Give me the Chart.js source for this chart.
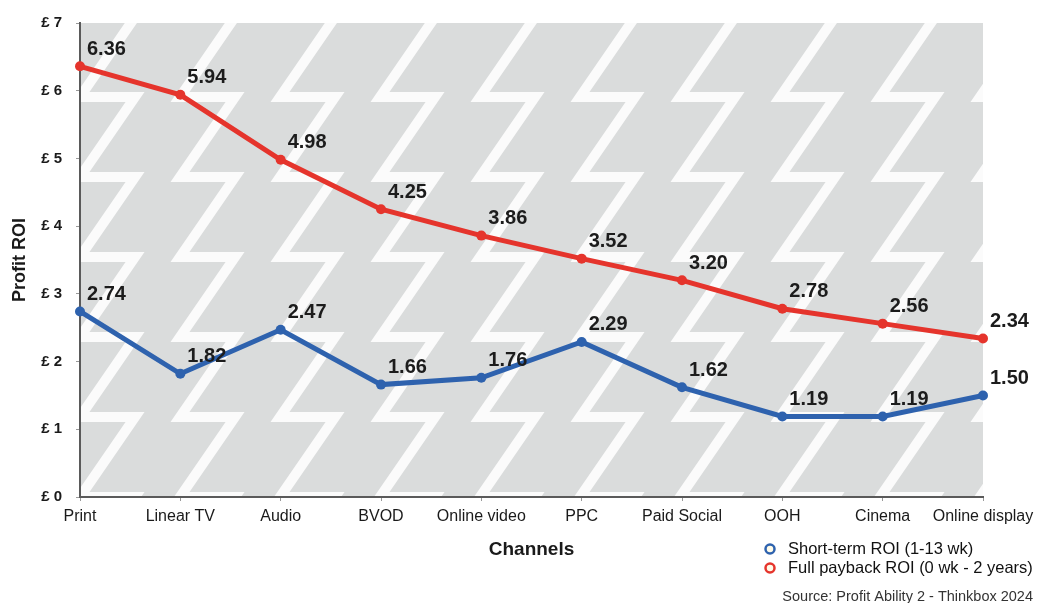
<!DOCTYPE html>
<html lang="en">
<head>
<meta charset="UTF-8">
<title>Profit ROI by channel</title>
<script src="https://cdn.jsdelivr.net/npm/chart.js"></script>
<style>
  html, body { margin: 0; padding: 0; background: #fff; }
  #wrap { width: 1048px; height: 603px; }
</style>
</head>
<body>
<div id="wrap"><canvas id="roiChart" width="1048" height="603"></canvas></div>
<script>
// data
const channels = ['Print', 'Linear TV', 'Audio', 'BVOD', 'Online video', 'PPC', 'Paid Social', 'OOH', 'Cinema', 'Online display'];
const shortTermRoi = [2.74, 1.82, 2.47, 1.66, 1.76, 2.29, 1.62, 1.19, 1.19, 1.50];
const fullPaybackRoi = [6.36, 5.94, 4.98, 4.25, 3.86, 3.52, 3.20, 2.78, 2.56, 2.34];
const seriesNames = ['Short-term ROI (1-13 wk)', 'Full payback ROI (0 wk - 2 years)'];
const yTicks = [0, 1, 2, 3, 4, 5, 6, 7];
const sourceNote = 'Source: Profit Ability 2 - Thinkbox 2024';

const FONT = '"Liberation Sans", Arial, sans-serif';
const BLUE = '#2e62ae';
const RED = '#e5342c';

// grey panel with white zigzag stripes behind the plot
const zigzagBackground = {
  id: 'zigzagBackground',
  beforeDraw(chart) {
    const { ctx, chartArea: a } = chart;
    ctx.save();
    ctx.beginPath();
    ctx.rect(a.left, a.top, a.right - a.left, a.bottom - a.top);
    ctx.clip();
    ctx.fillStyle = '#dadcdc';
    ctx.fillRect(a.left, a.top, a.right - a.left, a.bottom - a.top);
    ctx.strokeStyle = '#fbfbfb';
    ctx.lineWidth = 10;
    ctx.lineJoin = 'miter';
    const colW = 100, w = 55, h = 80;
    for (let x0 = a.left - colW; x0 < a.right + colW; x0 += colW) {
      ctx.beginPath();
      let y = a.bottom + h;
      ctx.moveTo(x0, y);
      while (y > a.top - h) {
        ctx.lineTo(x0 + w, y - h);
        ctx.lineTo(x0, y - h);
        y -= h;
      }
      ctx.stroke();
    }
    ctx.restore();
  }
};

// value labels above-right of each point
const pointLabels = {
  id: 'pointLabels',
  afterDatasetsDraw(chart) {
    const ctx = chart.ctx;
    ctx.save();
    ctx.font = 'bold 20px ' + FONT;
    ctx.fillStyle = '#1c1c1c';
    ctx.textAlign = 'left';
    ctx.textBaseline = 'middle';
    chart.data.datasets.forEach((ds, i) => {
      chart.getDatasetMeta(i).data.forEach((pt, j) => {
        ctx.fillText(ds.data[j].toFixed(2), pt.x + 7, pt.y - 17);
      });
    });
    ctx.restore();
  }
};

// legend block + source line, bottom right
const legendAndSource = {
  id: 'legendAndSource',
  afterDraw(chart) {
    const ctx = chart.ctx;
    const lx = chart.width - 278;
    ctx.save();
    chart.data.datasets.forEach((ds, i) => {
      const y = 549 + i * 19;
      ctx.beginPath();
      ctx.arc(lx, y, 4.5, 0, Math.PI * 2);
      ctx.fillStyle = '#fffbe8';
      ctx.fill();
      ctx.lineWidth = 2.5;
      ctx.strokeStyle = ds.borderColor;
      ctx.stroke();
      ctx.font = '16.5px ' + FONT;
      ctx.fillStyle = '#111';
      ctx.textAlign = 'left';
      ctx.textBaseline = 'middle';
      ctx.fillText(ds.label, lx + 18, y);
    });
    ctx.font = '14.5px ' + FONT;
    ctx.fillStyle = '#333';
    ctx.textAlign = 'right';
    ctx.textBaseline = 'middle';
    ctx.fillText(sourceNote, chart.width - 15, 597);
    ctx.restore();
  }
};

const ctx = document.getElementById('roiChart').getContext('2d');
new Chart(ctx, {
  type: 'line',
  data: {
    labels: channels,
    datasets: [
      {
        label: seriesNames[0],
        data: shortTermRoi,
        borderColor: BLUE,
        backgroundColor: BLUE,
        borderWidth: 5,
        pointRadius: 5,
        pointBorderWidth: 0,
        tension: 0
      },
      {
        label: seriesNames[1],
        data: fullPaybackRoi,
        borderColor: RED,
        backgroundColor: RED,
        borderWidth: 5,
        pointRadius: 5,
        pointBorderWidth: 0,
        tension: 0
      }
    ]
  },
  options: {
    responsive: false,
    animation: false,
    layout: { padding: { left: 0, right: 65, top: 20, bottom: 0 } },
    plugins: {
      legend: { display: false },
      tooltip: { enabled: false }
    },
    scales: {
      x: {
        offset: false,
        afterFit: s => { s.height = 106; },
        grid: { drawOnChartArea: false, tickLength: 4, color: '#999' },
        border: { display: true, color: '#5a5a5a', width: 2 },
        ticks: {
          autoSkip: false,
          maxRotation: 0,
          padding: 6,
          color: '#1a1a1a',
          font: { family: FONT, size: 16 }
        },
        title: {
          display: true,
          text: 'Channels',
          color: '#1a1a1a',
          font: { family: FONT, size: 19, weight: 'bold' },
          padding: { top: 0, bottom: 42 }
        }
      },
      y: {
        min: 0,
        max: 7,
        afterFit: s => { s.width = 80; },
        afterBuildTicks: s => { s.ticks = yTicks.map(v => ({ value: v })); },
        grid: { drawOnChartArea: false, tickLength: 4, color: '#999' },
        border: { display: true, color: '#5a5a5a', width: 2 },
        ticks: {
          padding: 14,
          color: '#1a1a1a',
          font: { family: FONT, size: 15, weight: 'bold' },
          callback: v => '£ ' + v
        },
        title: {
          display: true,
          text: 'Profit ROI',
          color: '#1a1a1a',
          font: { family: FONT, size: 18, weight: 'bold' },
          padding: { top: 9, bottom: 0 }
        }
      }
    }
  },
  plugins: [zigzagBackground, pointLabels, legendAndSource]
});
</script>
</body>
</html>
